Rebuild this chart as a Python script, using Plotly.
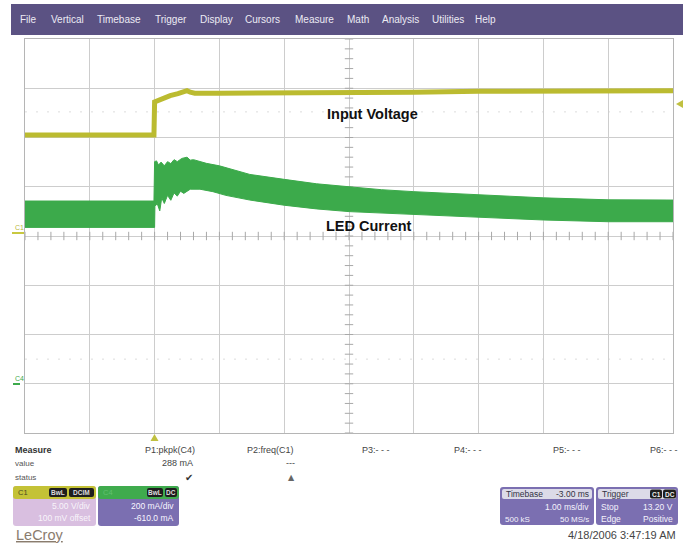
import plotly.graph_objects as go
import numpy as np

# ---------------- data ----------------
# time in ms relative to trigger (1 ms/div, 10 div), voltage in V (5 V/div)
volt_t = [-2.0, -0.01, 0.0, 0.08, 0.24, 0.36, 0.45, 0.5, 0.55, 0.62, 1.0, 1.5, 2.0, 3.0, 4.0, 5.0, 6.0, 7.0, 8.0]
volt_v = [10.25, 10.25, 13.6, 13.85, 14.25, 14.45, 14.6, 14.75, 14.6, 14.5, 14.5, 14.5, 14.52, 14.55, 14.6, 14.7, 14.7, 14.75, 14.75]

# LED current envelope in mA (200 mA/div, offset -610 mA)
cur_top_t = [-2.0, -0.01, 0.0, 0.03, 0.06, 0.1, 0.15, 0.2, 0.25, 0.3, 0.35, 0.42, 0.5, 0.55,
             0.6, 0.7, 0.8, 1.0, 1.2, 1.47, 2.0, 2.5, 3.0, 3.5, 4.0, 5.0, 6.0, 7.0, 8.0]
cur_top_i = [752, 752, 912, 915, 898, 910, 895, 912, 904, 920, 912, 925, 930, 918,
             920, 912, 905, 895, 880, 860, 840, 822, 810, 798, 790, 776, 765, 757, 756]
cur_bot_t = [-2.0, -0.01, 0.0, 0.005, 0.04, 0.08, 0.11, 0.15, 0.2, 0.25, 0.3, 0.35, 0.4,
             0.45, 0.55, 0.7, 0.9, 1.1, 1.47, 2.0, 2.5, 3.0, 3.5, 4.0, 5.0, 6.0, 7.0, 8.0]
cur_bot_i = [645, 645, 645, 730, 742, 712, 765, 742, 775, 755, 785, 772, 792,
             783, 800, 800, 790, 775, 756, 735, 720, 709, 701, 695, 686, 675, 668, 668]

menu_items = ["File", "Vertical", "Timebase", "Trigger", "Display", "Cursors",
              "Measure", "Math", "Analysis", "Utilities", "Help"]
menu_x = [18, 49, 95, 153, 198, 243, 293, 345, 380, 430, 473]

param_labels = ["P1:pkpk(C4)", "P2:freq(C1)", "P3:- - -", "P4:- - -", "P5:- - -", "P6:- - -"]
param_values = ["288 mA", "---", "", "", "", ""]

# ---------------- helpers (pixel -> paper) ----------------
L, R, T, B = 25, 673, 39, 433
W, H = R - L, B - T


def PX(x):
    return (x - L) / W


def PY(y):
    return (B - y) / H


def rrect(x0, y0, x1, y1, r=3):
    p = [f"M {PX(x0 + r)} {PY(y0)}", f"L {PX(x1 - r)} {PY(y0)}",
         f"Q {PX(x1)} {PY(y0)} {PX(x1)} {PY(y0 + r)}", f"L {PX(x1)} {PY(y1 - r)}",
         f"Q {PX(x1)} {PY(y1)} {PX(x1 - r)} {PY(y1)}", f"L {PX(x0 + r)} {PY(y1)}",
         f"Q {PX(x0)} {PY(y1)} {PX(x0)} {PY(y1 - r)}", f"L {PX(x0)} {PY(y0 + r)}",
         f"Q {PX(x0)} {PY(y0)} {PX(x0 + r)} {PY(y0)} Z"]
    return " ".join(p)


shapes = []
annots = []


def box(x0, y0, x1, y1, color, r=3, line=None):
    shapes.append(dict(type="path", path=rrect(x0, y0, x1, y1, r), xref="paper", yref="paper",
                       fillcolor=color, line=dict(width=1 if line else 0, color=line or color),
                       layer="above"))


def rect(x0, y0, x1, y1, color):
    shapes.append(dict(type="rect", x0=PX(x0), x1=PX(x1), y0=PY(y1), y1=PY(y0), xref="paper",
                       yref="paper", fillcolor=color, line=dict(width=0), layer="above"))


def text(x, y, s, size=9, color="#333333", anchor="left", bold=False, family="Liberation Sans, Arial, sans-serif"):
    if bold:
        s = f"<b>{s}</b>"
    annots.append(dict(x=PX(x), y=PY(y), xref="paper", yref="paper", text=s, showarrow=False,
                       xanchor=anchor, yanchor="middle", font=dict(size=size, color=color, family=family)))


# ---------------- figure ----------------
fig = go.Figure()

# LED current band
fig.add_trace(go.Scatter(x=cur_top_t + cur_bot_t[::-1], y=cur_top_i + cur_bot_i[::-1],
                         yaxis="y2", fill="toself", fillcolor="#3caa4b", mode="lines",
                         line=dict(width=1, color="#3caa4b"), hoverinfo="skip", showlegend=False))
# Input voltage
fig.add_trace(go.Scatter(x=volt_t, y=volt_v, mode="lines", line=dict(width=5, color="#bbbb30"),
                         hoverinfo="skip", showlegend=False))

# centre cross tick marks (graticule decoration)
hx = np.round(np.arange(-2, 8.001, 0.2), 3)
fig.add_trace(go.Scatter(x=hx, y=[0] * len(hx), mode="markers", hoverinfo="skip", showlegend=False,
                         marker=dict(symbol="line-ns", size=6, line=dict(width=1, color="#a8a8a8"))))
vy = np.round(np.arange(-20, 20.001, 1.0), 3)
fig.add_trace(go.Scatter(x=[3] * len(vy), y=vy, mode="markers", hoverinfo="skip", showlegend=False,
                         marker=dict(symbol="line-ew", size=6, line=dict(width=1, color="#a8a8a8"))))

# faint dotted rows
for yv in (12.6, -12.5):
    shapes.append(dict(type="line", xref="x", yref="y", x0=-2, x1=8, y0=yv, y1=yv,
                       line=dict(color="#dcdcdc", width=1, dash="2px,9px"), layer="below"))

# menu bar
rect(11, 4, 683, 35, "#5b5283")
for name, mx in zip(menu_items, menu_x):
    text(mx, 20, name, size=10, color="#ecebf4")

# channel markers on the left
text(13, 227, "C1", size=7, color="#b8b840")
shapes.append(dict(type="line", xref="paper", yref="paper", x0=PX(12), x1=PX(24), y0=PY(233), y1=PY(233),
                   line=dict(color="#c8c840", width=2)))
text(13, 378, "C4", size=7, color="#3caa4b")
shapes.append(dict(type="line", xref="paper", yref="paper", x0=PX(13), x1=PX(20), y0=PY(384), y1=PY(384),
                   line=dict(color="#3caa4b", width=2)))
# trigger level marker (right) and trigger position (bottom)
shapes.append(dict(type="path", xref="paper", yref="paper",
                   path=f"M {PX(676)} {PY(104)} L {PX(683)} {PY(100)} L {PX(683)} {PY(108)} Z",
                   fillcolor="#c0c040", line=dict(width=0)))
shapes.append(dict(type="path", xref="paper", yref="paper",
                   path=f"M {PX(154.5)} {PY(434)} L {PX(150.5)} {PY(441)} L {PX(158.5)} {PY(441)} Z",
                   fillcolor="#c0c040", line=dict(width=0)))

# trace labels
text(372, 114, "Input Voltage", size=14.5, color="#111111", anchor="center", bold=True)
text(369, 226, "LED Current", size=14.5, color="#111111", anchor="center", bold=True)

# measure table
text(13, 450, "Measure", size=9, color="#333333", bold=True)
text(13, 463, "value", size=8, color="#555555")
text(13, 477, "status", size=8, color="#555555")
p_lab_x = [143, 245, 360, 452, 551, 648]
p_val_x = [195, 297, 0, 0, 0, 0]
for lab, val, lx, vx in zip(param_labels, param_values, p_lab_x, p_val_x):
    text(lx, 450, lab, size=9, color="#444444")
    if val:
        text(vx, 463, val, size=9, color="#444444", anchor="right")
text(195, 477, "✔", size=10, color="#333333", anchor="right", family="DejaVu Sans")
text(297, 477, "▲", size=8, color="#666666", anchor="right", family="DejaVu Sans")

# C1 box
box(13, 486, 96, 526, "#d9bfe0")
box(13, 486, 96, 499, "#c4c236", r=3)
text(16, 492, "C1", size=7.5, color="#4a4a20")
box(49, 488, 67, 497, "#1e1e1e", r=2)
text(58, 492.5, "BwL", size=6.5, color="#dddddd", anchor="center", bold=True)
box(69, 488, 94, 497, "#1e1e1e", r=2)
text(81.5, 492.5, "DCIM", size=6.5, color="#dddddd", anchor="center", bold=True)
text(93, 506, "5.00 V/div", size=8.5, color="#f8f4fa", anchor="right")
text(93, 518, "100 mV offset", size=8.5, color="#f8f4fa", anchor="right")

# C4 box
box(98, 486, 179, 526, "#7b6fb1")
box(98, 486, 179, 499, "#3fab4d", r=3)
text(101, 492, "C4", size=7.5, color="#62c070")
box(147, 488, 163, 497, "#1e1e1e", r=2)
text(155, 492.5, "BwL", size=6.5, color="#dddddd", anchor="center", bold=True)
box(165, 488, 177, 497, "#1e1e1e", r=2)
text(171, 492.5, "DC", size=6.5, color="#dddddd", anchor="center", bold=True)
text(176, 506, "200 mA/div", size=8.5, color="#f8f6ff", anchor="right")
text(176, 518, "-610.0 mA", size=8.5, color="#f8f6ff", anchor="right")

# Timebase box
box(500, 487, 594, 525, "#7b6fb1")
box(502, 489, 592, 499, "#dcdbe8", r=2)
text(504, 494, "Timebase", size=8.5, color="#333344")
text(591, 494, "-3.00 ms", size=8.5, color="#333344", anchor="right")
text(591, 507, "1.00 ms/div", size=8.5, color="#f4f2fc", anchor="right")
text(503, 519, "500 kS", size=8, color="#f4f2fc")
text(591, 519, "50 MS/s", size=8, color="#f4f2fc", anchor="right")

# Trigger box
box(596, 487, 678, 525, "#7b6fb1")
box(598, 489, 676, 499, "#dcdbe8", r=2)
text(600, 494, "Trigger", size=8.5, color="#333344")
box(650, 489.5, 662, 498.5, "#1e1e1e", r=2)
text(656, 494, "C1", size=6.5, color="#eeeeee", anchor="center", bold=True)
box(663, 489.5, 676, 498.5, "#1e1e1e", r=2)
text(669.5, 494, "DC", size=6.5, color="#eeeeee", anchor="center", bold=True)
text(599, 507, "Stop", size=8.5, color="#f4f2fc")
text(675, 507, "13.20 V", size=8.5, color="#f4f2fc", anchor="right")
text(599, 519, "Edge", size=8.5, color="#f4f2fc")
text(675, 519, "Positive", size=8.5, color="#f4f2fc", anchor="right")

# footer
text(14, 535, "<u>LeCroy</u>", size=14.5, color="#8a7c6e")
text(678, 535, "4/18/2006 3:47:19 AM", size=11, color="#444444", anchor="right")

fig.update_layout(
    width=688, height=544,
    margin=dict(l=L, r=688 - R, t=T, b=544 - B, autoexpand=False),
    paper_bgcolor="white", plot_bgcolor="white",
    showlegend=False,
    xaxis=dict(range=[-2, 8], dtick=1, tick0=0, showgrid=True, gridcolor="#cdcdcd", gridwidth=1,
               zeroline=False, showticklabels=False, ticks="", showline=True, mirror=True,
               linecolor="#b5b5b5", linewidth=1, fixedrange=True),
    yaxis=dict(range=[-20, 20], dtick=5, tick0=0, showgrid=True, gridcolor="#cdcdcd", gridwidth=1,
               zeroline=False, showticklabels=False, ticks="", showline=True, mirror=True,
               linecolor="#b5b5b5", linewidth=1, fixedrange=True),
    yaxis2=dict(range=[-190, 1410], overlaying="y", side="right", showgrid=False, zeroline=False,
                showticklabels=False, ticks="", showline=False, fixedrange=True),
    shapes=shapes,
    annotations=annots,
)

fig.write_html("out.html", config={"displayModeBar": False},
               post_script="document.body.style.margin='0';document.body.style.overflow='hidden';")
